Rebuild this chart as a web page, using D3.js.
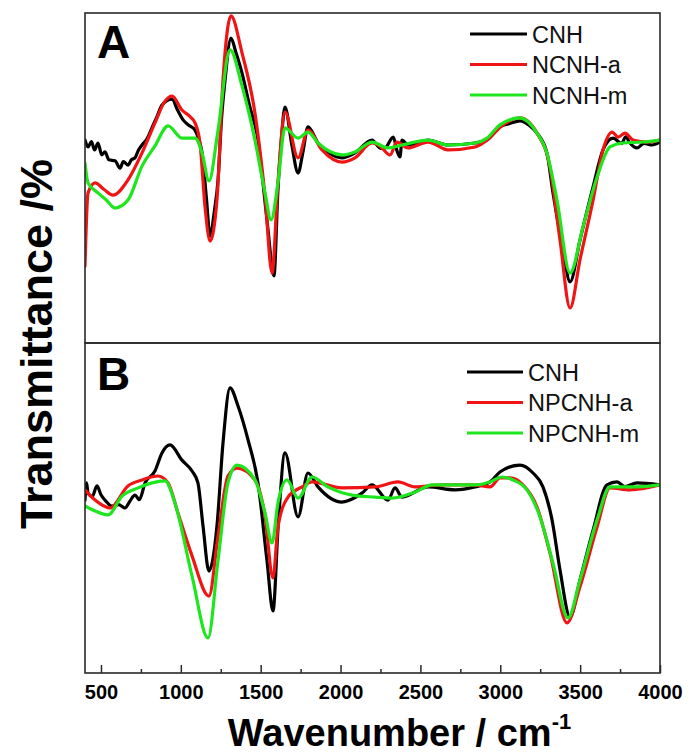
<!DOCTYPE html>
<html><head><meta charset="utf-8">
<script src="https://cdn.jsdelivr.net/npm/d3@7"></script>
<style>body{margin:0;background:#fff}</style>
</head><body>
<svg id="chart" width="690" height="753"></svg>
<script>
// ---------- data ----------
const xMajorTicks = [500,1000,1500,2000,2500,3000,3500,4000];
const xMinorTicks = [750,1250,1750,2250,2750,3250,3750];
const legendA = ["CNH","NCNH-a","NCNH-m"];
const legendB = ["CNH","NPCNH-a","NPCNH-m"];
const seriesColors = ["#000000","#f01414","#1ee61e"];
const panelLabels = ["A","B"];

// Panel A  [wavenumber, transmittance (a.u., % of panel)]
const cnhA = [[400,61.5],[419,59.4],[440,61.0],[460,58.5],[481,60.6],[505,57.0],[525,57.9],[550,55.5],[588,55.2],[620,53.0],[640,55.0],[669,53.9],[690,55.5],[713,56.1],[735,58.5],[757,60.0],[790,62.0],[819,65.2],[850,68.5],[882,72.1],[945,73.9],[980,70.5],[1014,67.6],[1050,66.0],[1089,64.5],[1110,62.0],[1133,57.6],[1160,44.0],[1183,32.4],[1210,40.0],[1233,49.4],[1255,68.0],[1277,79.7],[1314,92.4],[1345,88.0],[1383,81.8],[1430,72.0],[1483,61.5],[1520,46.0],[1546,34.2],[1583,20.3],[1608,46.4],[1630,62.0],[1652,71.5],[1695,60.0],[1734,51.5],[1765,58.0],[1796,65.5],[1859,60.6],[1930,57.5],[2009,56.1],[2090,57.6],[2197,61.5],[2250,59.0],[2278,59.1],[2330,62.4],[2355,58.0],[2372,56.4],[2385,61.5],[2422,60.0],[2548,61.5],[2673,60.0],[2842,60.6],[2917,61.5],[2998,65.5],[3060,66.5],[3123,67.3],[3180,66.0],[3230,63.6],[3292,57.6],[3330,45.5],[3393,28.2],[3437,18.5],[3499,31.2],[3581,47.3],[3643,58.5],[3706,62.1],[3760,60.5],[3785,62.5],[3812,60.6],[3856,59.1],[3900,60.5],[3950,60.0],[4000,60.9]];
const ncnhA_a = [[400,23.3],[419,45.5],[463,48.5],[520,46.5],[575,44.8],[669,49.4],[757,57.6],[838,66.7],[901,73.3],[945,74.8],[1007,70.6],[1060,68.5],[1089,66.7],[1120,60.6],[1151,41.5],[1183,30.9],[1226,43.3],[1264,79.7],[1314,99.1],[1383,87.9],[1464,69.7],[1527,44.5],[1571,21.2],[1608,48.5],[1652,70.0],[1734,56.1],[1796,64.5],[1884,58.5],[2009,54.8],[2090,56.1],[2197,60.6],[2250,59.5],[2310,57.0],[2353,60.9],[2422,59.1],[2548,60.9],[2673,58.5],[2842,59.4],[2917,61.5],[3017,66.1],[3123,68.2],[3230,63.6],[3311,53.3],[3374,31.2],[3437,10.6],[3499,25.2],[3581,43.3],[3643,58.5],[3700,63.9],[3737,62.4],[3781,63.6],[3831,61.5],[3919,60.9],[4000,61.5]];
const ncnhA_m = [[400,54.5],[419,48.5],[481,45.5],[530,43.5],[588,40.9],[669,43.3],[757,53.6],[838,59.7],[920,65.8],[1007,62.1],[1089,62.1],[1133,57.6],[1176,49.1],[1233,64.5],[1308,88.8],[1383,77.9],[1464,61.5],[1527,45.5],[1565,37.3],[1608,48.5],[1652,65.2],[1734,62.1],[1796,63.9],[1859,60.6],[2009,57.0],[2090,57.9],[2197,60.9],[2297,59.1],[2385,60.0],[2548,61.5],[2673,60.0],[2842,60.6],[2917,62.1],[2998,66.1],[3123,68.2],[3230,63.6],[3292,57.6],[3355,43.3],[3437,21.2],[3518,35.2],[3606,50.3],[3687,59.4],[3768,60.6],[3894,60.9],[4000,61.5]];

// Panel B
const cnhB = [[400,52.4],[410,57.6],[419,54.5],[445,53.5],[475,56.7],[500,54.0],[525,52.4],[569,50.6],[610,51.0],[650,50.0],[680,52.0],[713,53.9],[740,52.5],[776,57.6],[838,61.2],[882,66.7],[932,69.1],[1007,64.5],[1070,61.2],[1107,57.6],[1139,44.5],[1176,30.9],[1226,44.5],[1264,69.7],[1308,86.4],[1358,80.9],[1421,70.6],[1483,57.6],[1539,34.2],[1577,18.8],[1610,45.0],[1652,66.7],[1734,47.3],[1796,60.6],[1859,56.4],[2009,51.8],[2134,54.5],[2197,57.0],[2297,52.4],[2341,56.1],[2385,53.3],[2548,56.4],[2717,55.5],[2842,56.4],[2936,57.9],[2998,60.9],[3123,63.0],[3205,60.6],[3267,56.4],[3324,46.4],[3374,31.2],[3437,17.0],[3499,28.2],[3581,43.3],[3668,57.0],[3731,57.9],[3780,56.5],[3856,57.6],[4000,57.0]];
const npcnhB_a = [[400,55.5],[463,52.4],[557,50.0],[669,56.7],[757,58.5],[857,59.7],[920,57.6],[982,48.5],[1070,35.5],[1176,23.3],[1233,41.5],[1295,59.7],[1352,62.1],[1464,58.5],[1527,47.6],[1577,28.8],[1608,44.2],[1671,53.3],[1759,56.4],[1821,57.9],[2009,56.1],[2216,56.4],[2360,57.9],[2466,56.4],[2635,57.0],[2842,57.0],[2936,56.4],[2998,59.1],[3061,59.1],[3142,57.0],[3230,50.3],[3311,36.4],[3418,15.2],[3499,26.1],[3606,44.2],[3687,56.1],[3812,55.5],[4000,57.0]];
const npcnhB_m = [[400,50.6],[463,49.1],[544,47.9],[632,53.6],[732,56.1],[819,57.6],[901,58.2],[963,51.5],[1070,29.4],[1170,10.6],[1233,34.2],[1295,57.6],[1352,63.0],[1464,58.5],[1527,48.5],[1571,39.4],[1608,51.5],[1665,58.5],[1734,53.0],[1821,59.4],[1921,56.4],[2072,53.9],[2216,53.3],[2322,53.0],[2466,54.8],[2573,57.0],[2842,57.0],[2936,57.9],[3011,59.4],[3080,58.5],[3167,55.5],[3249,47.3],[3330,33.3],[3424,16.7],[3499,28.2],[3606,46.4],[3687,56.4],[3856,56.4],[4000,57.0]];

const panels = [
  {series:[cnhA, ncnhA_a, ncnhA_m], legend: legendA, label: panelLabels[0]},
  {series:[cnhB, npcnhB_a, npcnhB_m], legend: legendB, label: panelLabels[1]}
];

// ---------- layout ----------
const svg = d3.select("#chart");
const pLeft = 85, pRight = 660, pTop = 13, panelH = 330;
const x = d3.scaleLinear().domain([400,4000]).range([pLeft,pRight]);
const frameColor = "#2a2a2a";
const FONT = "Liberation Sans, Arial, sans-serif";

panels.forEach((p,i) => {
  const y0 = pTop + i*panelH;
  const y = d3.scaleLinear().domain([0,100]).range([y0+panelH, y0]);
  const clipId = "clip"+i;
  svg.append("clipPath").attr("id",clipId).append("rect")
    .attr("x",pLeft).attr("y",y0).attr("width",pRight-pLeft).attr("height",panelH);
  const g = svg.append("g").attr("clip-path",`url(#${clipId})`);
  const line = d3.line().x(d=>x(d[0])).y(d=>y(d[1])).curve(d3.curveMonotoneX);
  p.series.forEach((s,k) => {
    g.append("path").datum(s).attr("d",line)
      .attr("fill","none").attr("stroke",seriesColors[k])
      .attr("stroke-width",3.2).attr("stroke-linejoin","round").attr("stroke-linecap","round");
  });
  svg.append("rect").attr("x",pLeft).attr("y",y0).attr("width",pRight-pLeft).attr("height",panelH)
    .attr("fill","none").attr("stroke",frameColor).attr("stroke-width",1.6);
  svg.append("text").attr("x",pLeft+12).attr("y",y0+(i===0?45:47))
    .attr("font-family",FONT).attr("font-weight","bold")
    .attr("font-size",46).attr("fill","#000").text(p.label);
  const lx1 = i===0?470:467, lx2 = i===0?527:523, ly0 = i===0?34:372;
  p.legend.forEach((name,k) => {
    const ly = ly0 + k*30.5;
    svg.append("line").attr("x1",lx1).attr("x2",lx2).attr("y1",ly).attr("y2",ly)
      .attr("stroke",seriesColors[k]).attr("stroke-width",3.2);
    svg.append("text").attr("x",lx2+5).attr("y",ly+8.5)
      .attr("font-family",FONT)
      .attr("font-size",23.5).attr("fill","#111").text(name);
  });
});

// bottom axis (shared)
const axisY = pTop + 2*panelH;
const axMajor = d3.axisBottom(x).tickValues(xMajorTicks).tickSize(-8).tickPadding(12).tickFormat(d3.format("d"));
const gAx = svg.append("g").attr("transform",`translate(0,${axisY})`).call(axMajor);
gAx.select(".domain").remove();
gAx.selectAll(".tick line").attr("stroke",frameColor).attr("stroke-width",1.5);
gAx.selectAll(".tick text").attr("font-family",FONT)
  .attr("font-weight","bold").attr("font-size",20).attr("fill","#000");
const axMinor = d3.axisBottom(x).tickValues(xMinorTicks).tickSize(-4).tickFormat("");
const gMin = svg.append("g").attr("transform",`translate(0,${axisY})`).call(axMinor);
gMin.select(".domain").remove();
gMin.selectAll(".tick line").attr("stroke",frameColor).attr("stroke-width",1.5);

// axis titles
const xt = svg.append("text").attr("x",(pLeft+pRight)/2+27).attr("y",746)
  .attr("text-anchor","middle").attr("font-family",FONT)
  .attr("font-weight","bold").attr("font-size",38).attr("fill","#000");
xt.append("tspan").text("Wavenumber / cm");
xt.append("tspan").attr("dy",-17).attr("font-size",22).text("-1");

svg.append("text").attr("transform","translate(52,344) rotate(-90)")
  .attr("text-anchor","middle").attr("font-family",FONT)
  .attr("font-weight","bold").attr("font-size",45).attr("fill","#000")
  .text("Transmittance /%");
</script>
</body></html>
